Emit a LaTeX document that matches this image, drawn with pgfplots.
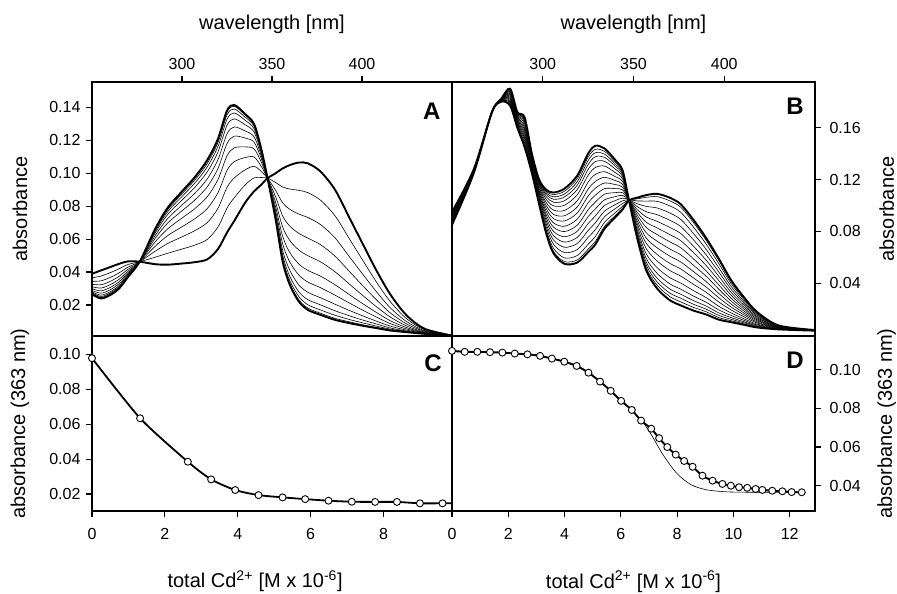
\documentclass[border=0pt]{standalone}
\usepackage{fontspec}
\setmainfont{Liberation Sans}
\usepackage{pgfplots}
\pgfplotsset{compat=1.18}
\usepackage{pgfplotstable}

\pgfplotstableread{
nm a0 a1 a2 a3 a4 a5 a6 a7 a8 a9 a10 a11
250 0.039 0.0365 0.0344 0.0326 0.0311 0.0299 0.0289 0.028 0.0274 0.0269 0.0267 0.0265
255 0.041 0.0376 0.0347 0.0323 0.0303 0.0286 0.0272 0.026 0.0252 0.0246 0.0242 0.024
260 0.043 0.0396 0.0367 0.0343 0.0323 0.0306 0.0292 0.028 0.0272 0.0266 0.0262 0.026
265 0.045 0.042 0.0395 0.0374 0.0356 0.0341 0.0329 0.0318 0.0311 0.0305 0.0302 0.030
270 0.0465 0.0446 0.043 0.0417 0.0405 0.0396 0.0388 0.0381 0.0377 0.0373 0.0371 0.037
276.5 0.0463 0.0463 0.0463 0.0463 0.0463 0.0463 0.0463 0.0463 0.0463 0.0463 0.0463 0.0463
285 0.0448 0.049 0.0526 0.0556 0.0582 0.0603 0.062 0.0635 0.0645 0.0653 0.0657 0.066
292 0.0445 0.0514 0.0573 0.0621 0.0662 0.0697 0.0724 0.0749 0.0766 0.0778 0.0786 0.079
300 0.0452 0.054 0.0614 0.0675 0.0728 0.0772 0.0807 0.0837 0.0859 0.0875 0.0885 0.089
307 0.046 0.0563 0.0651 0.0723 0.0784 0.0836 0.0877 0.0913 0.0939 0.0957 0.0969 0.0975
314 0.0477 0.0598 0.07 0.0785 0.0857 0.0917 0.0965 0.1008 0.1038 0.1059 0.1073 0.108
320 0.054 0.0674 0.0788 0.0882 0.0962 0.1029 0.1083 0.113 0.1163 0.1187 0.1202 0.121
325 0.064 0.0788 0.0914 0.1017 0.1106 0.118 0.1239 0.1291 0.1328 0.1354 0.1371 0.138
329 0.071 0.0851 0.0971 0.107 0.1154 0.1225 0.1281 0.133 0.1366 0.139 0.1407 0.1415
335 0.082 0.0928 0.102 0.1095 0.116 0.1214 0.1257 0.1295 0.1322 0.1341 0.1354 0.136
340 0.089 0.0972 0.1042 0.1099 0.1148 0.1189 0.1222 0.1251 0.1271 0.1286 0.1295 0.130
344 0.093 0.0974 0.1011 0.1042 0.1069 0.1091 0.1108 0.1124 0.1135 0.1142 0.1147 0.115
347.5 0.097 0.097 0.097 0.097 0.097 0.097 0.097 0.097 0.097 0.097 0.097 0.097
352 0.100 0.0944 0.0896 0.0857 0.0824 0.0796 0.0773 0.0754 0.074 0.073 0.0723 0.072
356 0.103 0.0916 0.0819 0.0739 0.0671 0.0614 0.0568 0.0528 0.05 0.048 0.0467 0.046
360 0.105 0.0904 0.078 0.0678 0.059 0.0517 0.0459 0.0408 0.0371 0.0346 0.0329 0.032
365 0.1065 0.0896 0.0752 0.0634 0.0533 0.0448 0.0381 0.0321 0.0279 0.025 0.023 0.022
370 0.106 0.0882 0.0731 0.0606 0.0499 0.041 0.0339 0.0277 0.0232 0.0201 0.0181 0.017
377 0.101 0.0836 0.0688 0.0566 0.0462 0.0375 0.0305 0.0244 0.0201 0.017 0.015 0.014
385 0.090 0.0742 0.0608 0.0497 0.0402 0.0323 0.026 0.0205 0.0165 0.0138 0.0119 0.011
393 0.073 0.0602 0.0493 0.0404 0.0327 0.0263 0.0212 0.0167 0.0135 0.0112 0.0098 0.009
400 0.058 0.0479 0.0393 0.0322 0.0262 0.0211 0.0171 0.0136 0.011 0.0093 0.0081 0.0075
408 0.041 0.034 0.0281 0.0232 0.019 0.0155 0.0127 0.0102 0.0085 0.0072 0.0064 0.006
416 0.026 0.0217 0.018 0.015 0.0125 0.0103 0.0086 0.0071 0.006 0.0053 0.0048 0.0045
425 0.0135 0.0115 0.0098 0.0084 0.0072 0.0062 0.0054 0.0047 0.0042 0.0039 0.0036 0.0035
435 0.0055 0.0049 0.0044 0.004 0.0036 0.0033 0.0031 0.0029 0.0027 0.0026 0.0025 0.0025
450 0.0015 0.0015 0.0015 0.0015 0.0015 0.0015 0.0015 0.0015 0.0015 0.0015 0.0015 0.0015
}\tabA

\pgfplotstableread{
nm b0 b1 b2 b3 b4 b5 b6 b7 b8 b9 b10 b11 b12 b13 b14 b15 b16 b17
250 0.095 0.0947 0.0942 0.0935 0.0928 0.0921 0.0914 0.0907 0.0900 0.0893 0.0886 0.0879 0.0872 0.0866 0.0861 0.0857 0.0854 0.085
262 0.128 0.1279 0.1278 0.1276 0.1273 0.1271 0.1269 0.1267 0.1265 0.1263 0.1261 0.1259 0.1257 0.1255 0.1253 0.1252 0.1251 0.125
272 0.172 0.172 0.172 0.172 0.172 0.172 0.172 0.172 0.172 0.172 0.172 0.172 0.172 0.172 0.172 0.172 0.172 0.172
277 0.180 0.1801 0.1802 0.1803 0.1804 0.1806 0.1807 0.1809 0.181 0.1811 0.1813 0.1814 0.1816 0.1817 0.1818 0.1819 0.1819 0.182
282 0.177 0.1774 0.178 0.179 0.1799 0.1808 0.1817 0.1826 0.1835 0.1844 0.1853 0.1862 0.1871 0.1879 0.1886 0.1891 0.1895 0.190
286 0.160 0.1604 0.161 0.1618 0.1626 0.1635 0.1643 0.1652 0.166 0.1668 0.1677 0.1685 0.1694 0.1701 0.1707 0.1712 0.1716 0.172
290 0.145 0.1457 0.1468 0.1484 0.1501 0.1517 0.1533 0.1549 0.1565 0.1581 0.1597 0.1613 0.1629 0.1643 0.1655 0.1664 0.1672 0.168
294 0.125 0.1255 0.1262 0.1273 0.1283 0.1294 0.1304 0.1315 0.1325 0.1336 0.1346 0.1357 0.1367 0.1376 0.1384 0.139 0.1395 0.140
298 0.101 0.1016 0.1025 0.1038 0.1052 0.1065 0.1078 0.1092 0.1105 0.1118 0.1132 0.1145 0.1158 0.117 0.1179 0.1187 0.1193 0.120
302 0.078 0.079 0.0807 0.0831 0.0855 0.0879 0.0902 0.0926 0.095 0.0974 0.0998 0.1021 0.1045 0.1066 0.1083 0.1096 0.1108 0.112
306 0.063 0.0644 0.0668 0.070 0.0733 0.0766 0.0799 0.0832 0.0865 0.0898 0.0931 0.0964 0.0997 0.1025 0.1048 0.1067 0.1084 0.110
312 0.055 0.0567 0.0596 0.0637 0.0678 0.0718 0.0759 0.0799 0.084 0.0881 0.0921 0.0962 0.1002 0.1037 0.1066 0.1089 0.111 0.113
319 0.056 0.058 0.0614 0.066 0.0707 0.0754 0.0801 0.0848 0.0895 0.0942 0.0989 0.1036 0.1083 0.1123 0.1156 0.1183 0.1207 0.123
325 0.064 0.0663 0.0701 0.0754 0.0807 0.086 0.0914 0.0967 0.102 0.1073 0.1126 0.118 0.1233 0.1278 0.1316 0.1347 0.1373 0.140
329 0.070 0.0723 0.0761 0.0814 0.0867 0.092 0.0974 0.1027 0.108 0.1133 0.1186 0.124 0.1293 0.1338 0.1376 0.1407 0.1433 0.146
334 0.082 0.0839 0.087 0.0913 0.0956 0.100 0.1043 0.1087 0.113 0.1173 0.1217 0.126 0.1304 0.1341 0.1372 0.1397 0.1418 0.144
340 0.091 0.0923 0.0945 0.0976 0.1007 0.1038 0.1068 0.1099 0.113 0.1161 0.1192 0.1222 0.1253 0.128 0.1302 0.1319 0.1335 0.135
344 0.097 0.0979 0.0994 0.1015 0.1036 0.1057 0.1078 0.1099 0.112 0.1141 0.1162 0.1183 0.1204 0.1222 0.1237 0.1249 0.1259 0.127
347.5 0.104 0.104 0.104 0.104 0.104 0.104 0.104 0.104 0.104 0.104 0.104 0.104 0.104 0.104 0.104 0.104 0.104 0.104
352 0.106 0.1051 0.1035 0.1014 0.0992 0.097 0.0948 0.0927 0.0905 0.0883 0.0862 0.084 0.0818 0.08 0.0784 0.0772 0.0761 0.075
357 0.108 0.1063 0.1034 0.0993 0.0952 0.0912 0.0871 0.0831 0.079 0.0749 0.0709 0.0668 0.0628 0.0593 0.0564 0.0541 0.052 0.050
363 0.109 0.1068 0.1032 0.0981 0.0929 0.0878 0.0827 0.0776 0.0725 0.0674 0.0623 0.0572 0.0521 0.0477 0.044 0.0411 0.0386 0.036
370 0.106 0.1036 0.0997 0.0942 0.0886 0.0831 0.0776 0.072 0.0665 0.061 0.0554 0.0499 0.0444 0.0396 0.0357 0.0325 0.0298 0.027
376 0.101 0.0987 0.0948 0.0893 0.0838 0.0784 0.0729 0.0675 0.062 0.0565 0.0511 0.0456 0.0402 0.0355 0.0316 0.0285 0.0257 0.023
383 0.089 0.0869 0.0834 0.0785 0.0736 0.0687 0.0638 0.0589 0.054 0.0491 0.0442 0.0393 0.0344 0.0302 0.0267 0.0239 0.0215 0.019
390 0.075 0.0732 0.0703 0.0662 0.062 0.0579 0.0538 0.0496 0.0455 0.0414 0.0372 0.0331 0.029 0.0254 0.0225 0.0201 0.0181 0.016
397 0.059 0.0576 0.0552 0.052 0.0487 0.0454 0.0421 0.0388 0.0355 0.0322 0.0289 0.0256 0.0223 0.0195 0.0172 0.0153 0.0136 0.012
404 0.042 0.041 0.0394 0.0372 0.035 0.0327 0.0305 0.0282 0.026 0.0238 0.0215 0.0193 0.017 0.0151 0.0135 0.0122 0.0111 0.010
411 0.029 0.0284 0.0273 0.0259 0.0244 0.0229 0.0214 0.02 0.0185 0.017 0.0156 0.0141 0.0126 0.0114 0.0103 0.0095 0.0087 0.008
418 0.018 0.0176 0.017 0.0162 0.0154 0.0145 0.0137 0.0128 0.012 0.0112 0.0103 0.0095 0.0086 0.0079 0.0073 0.0068 0.0064 0.006
430 0.0075 0.0074 0.0073 0.0071 0.0068 0.0066 0.0064 0.0062 0.006 0.0058 0.0056 0.0054 0.0052 0.005 0.0048 0.0047 0.0046 0.0045
450 0.004 0.004 0.004 0.0039 0.0039 0.0039 0.0038 0.0038 0.0038 0.0037 0.0037 0.0037 0.0036 0.0036 0.0036 0.0035 0.0035 0.0035
}\tabB

\pgfplotstableread{
x y
0 0.0978
1.32 0.0634
2.63 0.0385
3.27 0.0284
3.93 0.0223
4.57 0.0194
5.23 0.0181
5.85 0.0171
6.49 0.0162
7.13 0.0156
7.77 0.0155
8.37 0.0155
9.00 0.0147
9.62 0.0147
}\tabC

\pgfplotstableread{
x y
0 0.0978
1.32 0.0634
2.63 0.0385
3.27 0.0284
3.93 0.0223
4.57 0.0194
5.23 0.0181
5.85 0.0171
6.49 0.0162
7.13 0.0156
7.77 0.0155
8.37 0.0155
9.00 0.0147
9.62 0.0147
9.88 0.0147
}\tabCline

\pgfplotstableread{
x y
0 0.1098
0.45 0.1093
0.90 0.1093
1.35 0.1091
1.79 0.1089
2.23 0.1084
2.68 0.1080
3.13 0.1072
3.55 0.1058
3.99 0.1042
4.43 0.1020
4.85 0.0985
5.26 0.0939
5.64 0.0891
6.01 0.0839
6.39 0.0792
6.72 0.0737
7.08 0.0695
7.36 0.0646
7.65 0.0600
7.95 0.0561
8.25 0.0528
8.55 0.0498
8.90 0.0452
9.26 0.0426
9.61 0.0409
9.91 0.0400
10.20 0.0392
10.49 0.0389
10.79 0.0383
11.03 0.0378
11.38 0.0374
11.74 0.0371
12.07 0.0367
12.43 0.0366
}\tabD

\pgfplotstableread{
x y
0 0.1098
1 0.1092
2 0.1087
3 0.1075
4 0.1042
4.85 0.0985
5.64 0.0891
6.39 0.0792
6.80 0.0725
7.10 0.0660
7.50 0.0560
8.00 0.0462
8.50 0.0405
9.00 0.0380
9.50 0.0371
10.00 0.0367
11.00 0.0366
12.43 0.0366
}\tabDthin

\pgfplotsset{
  panel/.style={
    scale only axis,
    axis line style={line width=1.6pt},
    tick style={line width=1.2pt, black},
    tick align=outside,
    major tick length=6pt,
    minor tick num=0,
    tick label style={font=\fontsize{16}{16}\selectfont},
    label style={font=\fontsize{20}{20}\selectfont},
    /pgf/number format/assume math mode=true,
    scaled ticks=false,
    yticklabel style={/pgf/number format/fixed, /pgf/number format/fixed zerofill, /pgf/number format/precision=2},
  },
  thinspec/.style={black, line width=0.6pt, smooth, no marks},
  thickspec/.style={black, line width=1.9pt, smooth, no marks},
  circ/.style={only marks, mark=*, mark size=3.5pt, mark options={fill=white, draw=black, line width=0.9pt}},
}
\tikzset{letter/.style={font=\bfseries\fontsize{24}{24}\selectfont}}

\begin{document}
\begin{tikzpicture}
\path[use as bounding box] (0pt,0pt) rectangle (897pt,594pt);

% Panel A
\begin{axis}[panel, at={(92pt,258pt)}, anchor=south west, width=360pt, height=254pt,
  xmin=250, xmax=450, ymin=0.0012, ymax=0.1554,
  xtick={300,350,400}, xtick pos=right, xticklabel pos=right,
  ytick={0.02,0.04,0.06,0.08,0.10,0.12,0.14}, ytick pos=left, yticklabel pos=left,
  xticklabel style={yshift=3pt}, yticklabel style={xshift=-2pt},
  xlabel={wavelength [nm]}, ylabel={absorbance},
  xlabel style={at={(axis description cs:0.5,1.2075)}, anchor=base},
  ylabel style={at={(axis description cs:-0.2,0.5)}, anchor=center}]
\pgfplotsinvokeforeach{1,...,10}{\addplot[thinspec] table[x=nm, y=a#1] {\tabA};}
\addplot[thickspec] table[x=nm, y=a0] {\tabA};
\addplot[thickspec] table[x=nm, y=a11] {\tabA};
\node[letter] at (rel axis cs:0.944,0.883) {A};
\end{axis}

% Panel B
\begin{axis}[panel, at={(452pt,258pt)}, anchor=south west, width=363pt, height=254pt,
  xmin=250, xmax=450, ymin=-0.0006, ymax=0.1952,
  xtick={300,350,400}, xtick pos=right, xticklabel pos=right,
  ytick={0.04,0.08,0.12,0.16}, ytick pos=right, yticklabel pos=right,
  xticklabel style={yshift=3pt}, yticklabel style={xshift=5pt},
  xlabel={wavelength [nm]}, ylabel={absorbance},
  xlabel style={at={(axis description cs:0.5,1.2075)}, anchor=base},
  ylabel style={at={(axis description cs:1.1975,0.5)}, anchor=center}]
\pgfplotsinvokeforeach{1,...,16}{\addplot[thinspec] table[x=nm, y=b#1] {\tabB};}
\addplot[thickspec] table[x=nm, y=b0] {\tabB};
\addplot[thickspec] table[x=nm, y=b17] {\tabB};
\node[letter] at (rel axis cs:0.945,0.903) {B};
\end{axis}

% Panel C
\begin{axis}[panel, at={(92pt,83pt)}, anchor=south west, width=360pt, height=175pt,
  xmin=0, xmax=9.88, ymin=0.0103, ymax=0.1105, clip=false,
  xtick={0,2,4,6,8}, xtick pos=left, xticklabel pos=left,
  ytick={0.02,0.04,0.06,0.08,0.10}, ytick pos=left, yticklabel pos=left,
  xticklabel style={yshift=-8pt}, yticklabel style={xshift=-2pt},
  xlabel={total Cd\textsuperscript{2+} [M x 10\textsuperscript{-6}]}, ylabel={absorbance (363 nm)},
  xlabel style={at={(axis description cs:0.453,-0.44)}, anchor=base},
  ylabel style={at={(axis description cs:-0.2,0.5)}, anchor=center}]
\addplot[black, line width=1.8pt, smooth, tension=0.4, no marks] table[x=x, y=y] {\tabCline};
\addplot[circ] table[x=x, y=y] {\tabC};
\node[letter] at (rel axis cs:0.947,0.846) {C};
\end{axis}

% Panel D
\begin{axis}[panel, at={(452pt,83pt)}, anchor=south west, width=363pt, height=175pt,
  xmin=0, xmax=12.9, ymin=0.0269, ymax=0.1175, clip=false,
  xtick={0,2,4,6,8,10,12}, xtick pos=left, xticklabel pos=left,
  ytick={0.04,0.06,0.08,0.10}, ytick pos=right, yticklabel pos=right,
  xticklabel style={yshift=-8pt}, yticklabel style={xshift=5pt},
  xlabel={total Cd\textsuperscript{2+} [M x 10\textsuperscript{-6}]}, ylabel={absorbance (363 nm)},
  xlabel style={at={(axis description cs:0.5,-0.44)}, anchor=base},
  ylabel style={at={(axis description cs:1.1975,0.5)}, anchor=center}]
\addplot[black, line width=0.6pt, smooth, no marks] table[x=x, y=y] {\tabDthin};
\addplot[black, line width=1.9pt, smooth, no marks] table[x=x, y=y] {\tabD};
\addplot[circ] table[x=x, y=y] {\tabD};
\node[letter] at (rel axis cs:0.945,0.863) {D};
\end{axis}
\end{tikzpicture}
\end{document}
